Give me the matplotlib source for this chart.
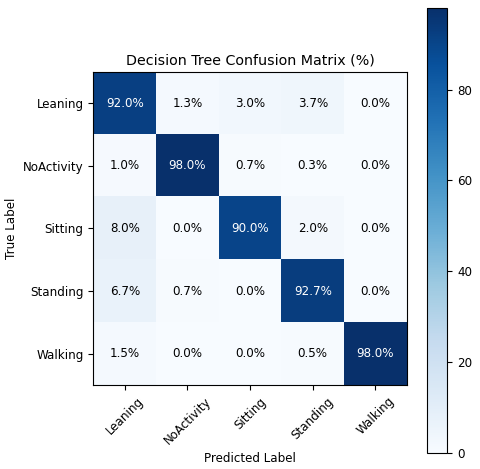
import matplotlib
matplotlib.use("Agg")
import matplotlib.pyplot as plt
import numpy as np

plt.rcParams["font.size"] = 8.6

labels = ["Leaning", "NoActivity", "Sitting", "Standing", "Walking"]
row_leaning = [92.0, 1.3, 3.0, 3.7, 0.0]
row_noactivity = [1.0, 98.0, 0.7, 0.3, 0.0]
row_sitting = [8.0, 0.0, 90.0, 2.0, 0.0]
row_standing = [6.7, 0.7, 0.0, 92.7, 0.0]
row_walking = [1.5, 0.0, 0.0, 0.5, 98.0]

cm = np.array([row_leaning, row_noactivity, row_sitting, row_standing, row_walking])

fig = plt.figure(figsize=(4.8, 4.69), dpi=100)
ax = fig.add_axes([0.194, 0.179, 0.654, 0.668])
im = ax.imshow(cm, cmap="Blues", vmin=0, vmax=cm.max())
cax = fig.add_axes([0.89, 0.035, 0.042, 0.948])
fig.colorbar(im, cax=cax)
ax.set_title("Decision Tree Confusion Matrix (%)", fontsize=10.3, pad=5)
ax.set_xticks(range(len(labels)))
ax.set_yticks(range(len(labels)))
ax.set_xticklabels(labels, rotation=45)
ax.set_yticklabels(labels)
ax.set_xlabel("Predicted Label")
ax.set_ylabel("True Label")
thresh = cm.max() / 2
for i in range(cm.shape[0]):
    for j in range(cm.shape[1]):
        ax.text(j, i, f"{cm[i, j]:.1f}%", ha="center", va="center",
                color="white" if cm[i, j] > thresh else "black")
fig.savefig("out.png", dpi=100)
